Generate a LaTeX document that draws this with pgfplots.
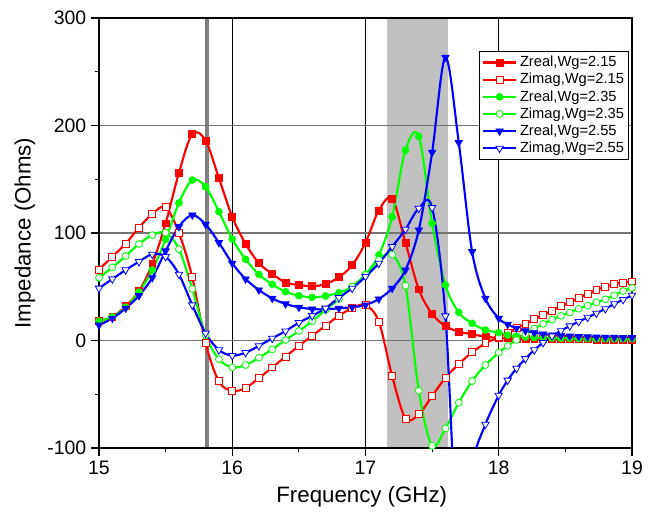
\documentclass[border=0pt]{standalone}
\usepackage{fontspec}
\setmainfont{Liberation Sans}
\usepackage{pgfplots}
\pgfplotsset{compat=1.18}
\usetikzlibrary{calc}
\definecolor{cred}{RGB}{255,0,0}
\definecolor{cgreen}{RGB}{0,255,0}
\definecolor{cblue}{RGB}{0,0,255}
\definecolor{shade}{RGB}{192,192,192}
\begin{document}
\begin{tikzpicture}
\begin{axis}[
  set layers,
  scale only axis,
  width=399.75pt, height=322.5pt,
  xmin=15, xmax=19, ymin=-100, ymax=300,
  xtick={15,16,17,18,19}, ytick={-100,0,100,200,300},
  minor x tick num=1, minor y tick num=1,
  tick align=outside,
  xtick pos=left, ytick pos=left,
  major tick length=6pt, minor tick length=3pt,
  every tick/.style={black, line width=0.8pt},
  axis line style={black, line width=0.9pt},
  xmajorgrids, ymajorgrids,
  x grid style={black, line width=0.6pt},
  y grid style={black!55, line width=1.1pt},
  /pgf/number format/assume math mode=true,
  ticklabel style={font=\fontsize{14.6}{16}\selectfont},
  xlabel={Frequency (GHz)}, ylabel={Impedance (Ohms)},
  label style={font=\fontsize{16.7}{19}\selectfont},
  xlabel style={at={(axis description cs:0.493,-0.114)}, anchor=center},
  ylabel style={at={(axis description cs:-0.139,0.5)}, anchor=center},
  legend style={at={(0.9944,0.923)}, anchor=north east, draw=black, line width=0.6pt,
     font=\fontsize{11}{13.5}\selectfont, inner sep=1.5pt, row sep=-0.6pt,
     /tikz/every even column/.append style={column sep=1pt}},
  legend cell align=left,
  legend image code/.code={\draw[mark repeat=2,mark phase=2,#1] plot coordinates {(0cm,0cm) (0.44cm,0cm) (0.88cm,0cm)};},
  every axis plot/.append style={line width=1.6pt, smooth, tension=0.55, mark size=2.6pt},
]
\addplot[sharp plot, draw=none, fill=shade, on layer=axis background, forget plot] coordinates {(17.16,-100) (17.16,300) (17.62,300) (17.62,-100)} -- cycle;
\addplot[sharp plot, black!50, line width=2.4pt, no marks, forget plot, on layer=axis background] coordinates {(15.81,-100) (15.81,300)};

% Zreal Wg=2.15
\addplot[cred, mark=square*, mark options={fill=cred, line width=0.5pt}] table {
15.0 18
15.1 22
15.2 32
15.3 46
15.4 71
15.5 109
15.6 156
15.7 192
15.8 186
15.9 151
16.0 115
16.1 90
16.2 72
16.3 62
16.4 54
16.5 51.6
16.6 50.5
16.7 52.5
16.8 58.8
16.9 70
17.0 91
17.1 121
17.2 132
17.3 91
17.4 47.6
17.5 24.7
17.6 13.5
17.7 8.2
17.8 5.8
17.9 3.5
18.0 2.5
18.067 2
18.133 1.8
18.2 1.6
18.267 1.5
18.333 1.4
18.4 1.3
18.467 1.2
18.533 1.2
18.6 1.1
18.667 1.1
18.733 1
18.8 1
18.867 1
18.933 1
19.0 1
};
\addlegendentry{Zreal,Wg=2.15}
% Zimag Wg=2.15
\addplot[cred, mark=square*, mark options={fill=white, line width=0.6pt}] table {
15.0 66
15.1 78
15.2 90
15.3 105
15.4 117.7
15.5 124
15.6 100
15.7 58.8
15.8 -2.5
15.9 -38
16.0 -47
16.1 -44
16.2 -35
16.3 -25
16.4 -15
16.5 -5
16.6 4.5
16.7 13.8
16.8 23
16.9 30
17.0 33
17.1 17.5
17.2 -33
17.3 -72.5
17.4 -68.7
17.5 -51.6
17.6 -34.6
17.7 -22
17.8 -11
17.9 -2.6
18.0 3
18.067 7
18.133 11.5
18.2 15.5
18.267 19.7
18.333 23.7
18.4 27.7
18.467 32
18.533 35.5
18.6 39.5
18.667 43.5
18.733 47
18.8 50
18.867 52.5
18.933 54
19.0 55
};
\addlegendentry{Zimag,Wg=2.15}
% Zreal Wg=2.35
\addplot[cgreen, mark=*, mark options={fill=cgreen, line width=0.5pt}] table {
15.0 18
15.1 22
15.2 31
15.3 45
15.4 65.6
15.5 94
15.6 128
15.7 149.3
15.8 143
15.9 119.8
16.0 94.4
16.1 75.5
16.2 61.5
16.3 52.3
16.4 45.4
16.5 41.7
16.6 40.2
16.7 41.4
16.8 44.5
16.9 50
17.0 61.5
17.1 79.5
17.2 115
17.3 177
17.4 190
17.5 109
17.6 51.6
17.7 26.2
17.8 16
17.9 9.8
18.0 7.3
18.067 5
18.133 4
18.2 3.2
18.267 2.7
18.333 2.4
18.4 2.2
18.467 2
18.533 1.9
18.6 1.8
18.667 1.7
18.733 1.6
18.8 1.5
18.867 1.5
18.933 1.5
19.0 1.5
};
\addlegendentry{Zreal,Wg=2.35}
% Zimag Wg=2.35
\addplot[cgreen, mark=*, mark options={fill=white, line width=0.6pt}] table {
15.0 58.4
15.1 68
15.2 78.6
15.3 89.8
15.4 98
15.5 100.3
15.6 85
15.7 48
15.8 5
15.9 -17.5
16.0 -25
16.1 -22.8
16.2 -16
16.3 -8.2
16.4 0.5
16.5 8.8
16.6 18
16.7 28.4
16.8 38.6
16.9 50
17.0 61
17.1 75
17.2 80
17.3 51
17.4 -46.7
17.5 -98
17.6 -81.7
17.7 -57.9
17.8 -37.7
17.9 -22.8
18.0 -11.3
18.067 -5
18.133 0.5
18.2 6
18.267 11
18.333 15.5
18.4 19.5
18.467 23
18.533 26
18.6 29.5
18.667 32.6
18.733 35.5
18.8 38.3
18.867 42
18.933 46
19.0 49
};
\addlegendentry{Zimag,Wg=2.35}
% Zreal Wg=2.55
\addplot[cblue, mark=triangle*, mark size=3.2pt, mark options={fill=cblue, rotate=180, line width=0.5pt}] table {
15.0 14.4
15.1 20.6
15.2 30
15.3 41.7
15.4 58.4
15.5 83.3
15.6 105.9
15.7 116.7
15.8 108
15.9 91
16.0 71.8
16.1 57.2
16.2 47
16.3 39.2
16.4 34
16.5 30.9
16.6 29.3
16.7 29
16.8 30
16.9 30.9
17.0 33
17.1 38.6
17.2 48.5
17.3 65.6
17.4 102.8
17.5 175
17.6 263.4
17.7 184
17.8 82.6
17.9 39.2
18.0 20.6
18.067 15
18.133 11.4
18.2 9
18.267 7.2
18.333 6
18.4 5
18.467 4.5
18.533 4
18.6 3.6
18.667 3.3
18.733 3.1
18.8 3
18.867 2.9
18.933 2.8
19.0 2.7
};
\addlegendentry{Zreal,Wg=2.55}
% Zimag Wg=2.55
\addplot[cblue, mark=triangle*, mark size=3.2pt, mark options={fill=white, rotate=180, line width=0.6pt}] table {
15.0 48.6
15.1 57.2
15.2 65.6
15.3 73.3
15.4 80.2
15.5 78
15.6 61.5
15.7 33
15.8 6.7
15.9 -8.8
16.0 -14
16.1 -11.3
16.2 -5
16.3 2
16.4 8.8
16.5 16.6
16.6 23
16.7 30
16.8 39.8
16.9 48.5
17.0 59.4
17.1 71.8
17.2 87.3
17.3 103.4
17.4 122.9
17.5 123.5
17.6 22.8
17.7 -200
17.8 -115
17.9 -78
18.0 -51
18.067 -37
18.133 -26
18.2 -17
18.267 -8.8
18.333 -2
18.4 4
18.467 9
18.533 13.5
18.6 17.5
18.667 21.5
18.733 25.3
18.8 29.5
18.867 34
18.933 38
19.0 42
};
\addlegendentry{Zimag,Wg=2.55}
\end{axis}
\pgfresetboundingbox
\path[use as bounding box] ($(current axis.south west)+(-74.25pt,-52.5pt)$) rectangle ($(current axis.north east)+(16.5pt,13.5pt)$);
\end{tikzpicture}
\end{document}
